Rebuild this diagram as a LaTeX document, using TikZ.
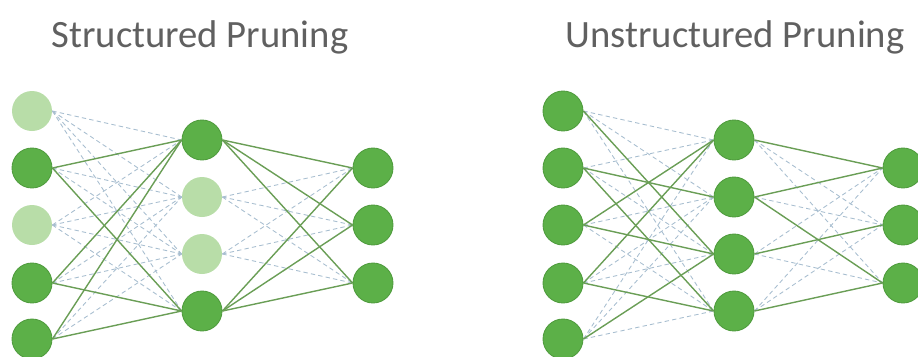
\documentclass[tikz,border=0pt]{standalone}
\usepackage{fontspec}
\setmainfont{Carlito}
\usetikzlibrary{backgrounds}
\definecolor{nodegreen}{RGB}{92,176,72}
\definecolor{nodeedge}{RGB}{80,156,62}
\definecolor{prunedgreen}{RGB}{184,221,168}
\definecolor{linkgreen}{RGB}{106,158,86}
\definecolor{prunedlink}{RGB}{168,190,208}
\definecolor{titlegray}{RGB}{96,96,96}

\begin{document}
\begin{tikzpicture}[
    x=0.02cm, y=-0.02cm,
    neuron/.style={circle, draw=nodeedge, fill=nodegreen, line width=0.5pt, minimum size=0.8cm, inner sep=0pt},
    prunedneuron/.style={circle, fill=prunedgreen, minimum size=0.8cm, inner sep=0pt},
    keeplink/.style={draw=linkgreen, line width=0.8pt},
    droplink/.style={draw=prunedlink, line width=0.5pt, dash pattern=on 2.5pt off 1.8pt},
    heading/.style={font=\fontsize{22}{26}\selectfont, text=titlegray, anchor=base}
]
\useasboundingbox (0,0) rectangle (918,356);

% Titles
\node[heading] (stitle) at (200,47) {Structured Pruning};
\node[heading] (utitle) at (735,47) {Unstructured Pruning};

% Structured: input layer
\node[prunedneuron] (si1) at (32,111) {};
\node[neuron] (si2) at (32,168) {};
\node[prunedneuron] (si3) at (32,225) {};
\node[neuron] (si4) at (32,283) {};
\node[neuron] (si5) at (32,339) {};

% Structured: hidden layer
\node[neuron] (sh1) at (202,140) {};
\node[prunedneuron] (sh2) at (202,197) {};
\node[prunedneuron] (sh3) at (202,254) {};
\node[neuron] (sh4) at (202,311) {};

% Structured: output layer
\node[neuron] (so1) at (373,168) {};
\node[neuron] (so2) at (373,225) {};
\node[neuron] (so3) at (373,283) {};

% Unstructured: input layer
\node[neuron] (ui1) at (563,111) {};
\node[neuron] (ui2) at (563,168) {};
\node[neuron] (ui3) at (563,225) {};
\node[neuron] (ui4) at (563,283) {};
\node[neuron] (ui5) at (563,339) {};

% Unstructured: hidden layer
\node[neuron] (uh1) at (734,140) {};
\node[neuron] (uh2) at (734,197) {};
\node[neuron] (uh3) at (734,254) {};
\node[neuron] (uh4) at (734,311) {};

% Unstructured: output layer
\node[neuron] (uo1) at (903,168) {};
\node[neuron] (uo2) at (903,225) {};
\node[neuron] (uo3) at (903,283) {};

\begin{scope}[on background layer]
% Structured links
\foreach \a/\b in {1/1,1/2,1/3,1/4,3/1,3/2,3/3,3/4,2/2,2/3,4/2,4/3,5/2,5/3}
    \draw[droplink] (si\a.east) -- (sh\b.west);
\foreach \a/\b in {2/1,2/2,2/3,3/1,3/2,3/3}
    \draw[droplink] (sh\a.east) -- (so\b.west);
\foreach \a/\b in {2/1,2/4,4/1,4/4,5/1,5/4}
    \draw[keeplink] (si\a.east) -- (sh\b.west);
\foreach \a/\b in {1/1,1/2,1/3,4/1,4/2,4/3}
    \draw[keeplink] (sh\a.east) -- (so\b.west);

% Unstructured links
\foreach \a/\b in {1/1,1/2,1/4,2/1,2/3,3/2,3/4,4/2,4/3,5/1,5/2,5/4}
    \draw[droplink] (ui\a.east) -- (uh\b.west);
\foreach \a/\b in {1/2,1/3,2/2,3/1,3/3,4/1,4/2}
    \draw[droplink] (uh\a.east) -- (uo\b.west);
\foreach \a/\b in {1/3,2/2,2/4,3/1,3/3,4/1,4/4,5/3}
    \draw[keeplink] (ui\a.east) -- (uh\b.west);
\foreach \a/\b in {1/1,2/1,2/3,3/2,4/3}
    \draw[keeplink] (uh\a.east) -- (uo\b.west);
\end{scope}

\end{tikzpicture}
\end{document}
